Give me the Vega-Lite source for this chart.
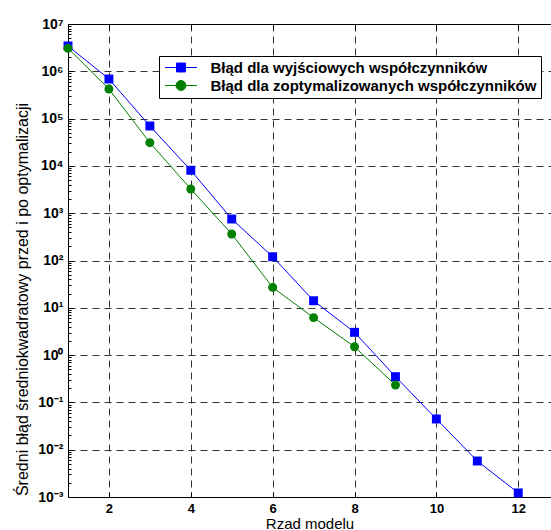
{
  "$schema": "https://vega.github.io/schema/vega-lite/v6.json",
  "width": 483,
  "height": 473,
  "autosize": {"type": "none"},
  "padding": {"left": 68, "top": 24, "right": 0, "bottom": 33},
  "background": "white",
  "config": {"view": {"stroke": null}, "font": "Liberation Sans",
    "legend": {"orient": "none", "legendX": 91, "legendY": 32, "strokeColor": "black", "fillColor": "white", "padding": 4,
      "labelFont": "Liberation Sans", "labelFontSize": 15, "labelFontWeight": "bold", "labelColor": "black", "labelLimit": 500,
      "symbolSize": 196, "symbolOffset": 10.5, "labelOffset": 22, "rowPadding": 2, "symbolStrokeWidth": 1, "symbolOpacity": 1}},
  "data": {
    "values": [
      {"order": 1, "mse": 3430000, "series": "Błąd dla wyjściowych współczynników"},
      {"order": 2, "mse": 688000, "series": "Błąd dla wyjściowych współczynników"},
      {"order": 3, "mse": 69800, "series": "Błąd dla wyjściowych współczynników"},
      {"order": 4, "mse": 8070, "series": "Błąd dla wyjściowych współczynników"},
      {"order": 5, "mse": 754, "series": "Błąd dla wyjściowych współczynników"},
      {"order": 6, "mse": 120, "series": "Błąd dla wyjściowych współczynników"},
      {"order": 7, "mse": 14.1, "series": "Błąd dla wyjściowych współczynników"},
      {"order": 8, "mse": 3.03, "series": "Błąd dla wyjściowych współczynników"},
      {"order": 9, "mse": 0.35, "series": "Błąd dla wyjściowych współczynników"},
      {"order": 10, "mse": 0.0446, "series": "Błąd dla wyjściowych współczynników"},
      {"order": 11, "mse": 0.00577, "series": "Błąd dla wyjściowych współczynników"},
      {"order": 12, "mse": 0.00122, "series": "Błąd dla wyjściowych współczynników"},
      {"order": 1, "mse": 3060000, "series": "Błąd dla zoptymalizowanych współczynników"},
      {"order": 2, "mse": 423000, "series": "Błąd dla zoptymalizowanych współczynników"},
      {"order": 3, "mse": 31000, "series": "Błąd dla zoptymalizowanych współczynników"},
      {"order": 4, "mse": 3250, "series": "Błąd dla zoptymalizowanych współczynników"},
      {"order": 5, "mse": 363, "series": "Błąd dla zoptymalizowanych współczynników"},
      {"order": 6, "mse": 27, "series": "Błąd dla zoptymalizowanych współczynników"},
      {"order": 7, "mse": 6.2, "series": "Błąd dla zoptymalizowanych współczynników"},
      {"order": 8, "mse": 1.5, "series": "Błąd dla zoptymalizowanych współczynników"},
      {"order": 9, "mse": 0.233, "series": "Błąd dla zoptymalizowanych współczynników"}
    ]
  },
  "layer": [
    {
      "mark": {"type": "line", "strokeWidth": 1},
      "encoding": {
        "x": {
          "field": "order", "type": "quantitative",
          "scale": {"domain": [1, 12.8], "nice": false, "zero": false},
          "axis": {
            "orient": "bottom", "values": [2, 4, 6, 8, 10, 12],
            "title": "Rzad modelu", "titleFontSize": 15, "titleFontWeight": "normal", "titleColor": "black", "titlePadding": 1,
            "labelFontSize": 13, "labelFontWeight": "bold", "labelColor": "black", "labelPadding": 10,
            "tickSize": -5, "tickColor": "black", "domainColor": "black", "domainWidth": 1,
            "grid": true, "gridDash": [7, 5], "gridColor": "#333333", "gridOpacity": 1
          }
        },
        "y": {
          "field": "mse", "type": "quantitative",
          "scale": {"type": "log", "domain": [0.001, 10000000], "nice": false},
          "axis": {
            "values": [0.001, 0.002, 0.003, 0.004, 0.005, 0.006, 0.007, 0.008, 0.009,
              0.01, 0.02, 0.03, 0.04, 0.05, 0.06, 0.07, 0.08, 0.09,
              0.1, 0.2, 0.3, 0.4, 0.5, 0.6, 0.7, 0.8, 0.9,
              1, 2, 3, 4, 5, 6, 7, 8, 9,
              10, 20, 30, 40, 50, 60, 70, 80, 90,
              100, 200, 300, 400, 500, 600, 700, 800, 900,
              1000, 2000, 3000, 4000, 5000, 6000, 7000, 8000, 9000,
              10000, 20000, 30000, 40000, 50000, 60000, 70000, 80000, 90000,
              100000, 200000, 300000, 400000, 500000, 600000, 700000, 800000, 900000,
              1000000, 2000000, 3000000, 4000000, 5000000, 6000000, 7000000, 8000000, 9000000,
              10000000],
            "labelExpr": "abs(log(datum.value)/LN10 - round(log(datum.value)/LN10)) < 0.001 ? '10' + (round(log(datum.value)/LN10) < 0 ? '⁻' : '') + substring('⁰¹²³⁴⁵⁶⁷⁸⁹', abs(round(log(datum.value)/LN10)), abs(round(log(datum.value)/LN10)) + 1) : ''",
            "labelOverlap": false, "labelFontSize": 14, "labelFontWeight": "bold", "labelColor": "black", "labelPadding": 10,
            "tickSize": {"condition": {"test": "abs(log(datum.value)/LN10 - round(log(datum.value)/LN10)) < 0.001", "value": -5}, "value": -3},
            "tickColor": "black", "domainColor": "black", "domainWidth": 1,
            "grid": true, "gridDash": [7, 5], "gridColor": "#333333",
            "gridOpacity": {"condition": {"test": "abs(log(datum.value)/LN10 - round(log(datum.value)/LN10)) < 0.001", "value": 1}, "value": 0},
            "title": "Średni błąd  średniokwadratowy przed i po optymalizacji",
            "titleFontSize": 16, "titleFontWeight": "normal", "titleColor": "black", "titlePadding": 7, "titleY": 275
          }
        },
        "stroke": {
          "field": "series", "type": "nominal",
          "scale": {"domain": ["Błąd dla wyjściowych współczynników", "Błąd dla zoptymalizowanych współczynników"], "range": ["#0000ff", "#008000"]},
          "legend": {"title": null}
        }
      }
    },
    {
      "transform": [{"filter": "datum.series === 'Błąd dla wyjściowych współczynników'"}],
      "mark": {"type": "point", "shape": "square", "filled": true, "opacity": 1, "color": "#0000ff", "size": 80},
      "encoding": {
        "x": {
          "field": "order", "type": "quantitative",
          "scale": {"domain": [1, 12.8], "nice": false, "zero": false},
          "axis": {
            "orient": "top", "values": [2, 4, 6, 8, 10, 12], "labels": false, "title": null,
            "tickSize": -5, "tickColor": "black", "domainColor": "black", "domainWidth": 1, "grid": false
          }
        },
        "y": {"field": "mse", "type": "quantitative", "scale": {"type": "log", "domain": [0.001, 10000000], "nice": false}, "axis": null}
      }
    },
    {
      "transform": [{"filter": "datum.series === 'Błąd dla zoptymalizowanych współczynników'"}],
      "mark": {"type": "point", "shape": "circle", "filled": true, "opacity": 1, "color": "#008000", "size": 80},
      "encoding": {
        "x": {"field": "order", "type": "quantitative", "scale": {"domain": [1, 12.8], "nice": false, "zero": false}, "axis": null},
        "y": {"field": "mse", "type": "quantitative", "scale": {"type": "log", "domain": [0.001, 10000000], "nice": false}, "axis": null}
      }
    },
    {
      "transform": [{"filter": "datum.order > 100"}],
      "mark": {"type": "point", "filled": true, "opacity": 1, "strokeWidth": 1},
      "encoding": {
        "x": {"field": "order", "type": "quantitative", "scale": {"domain": [1, 12.8], "nice": false, "zero": false}, "axis": null},
        "y": {"field": "mse", "type": "quantitative", "scale": {"type": "log", "domain": [0.001, 10000000], "nice": false}, "axis": null},
        "fill": {
          "field": "series", "type": "nominal",
          "scale": {"domain": ["Błąd dla wyjściowych współczynników", "Błąd dla zoptymalizowanych współczynników"], "range": ["#0000ff", "#008000"]},
          "legend": {"title": null}
        },
        "stroke": {"field": "series", "type": "nominal", "legend": {"title": null}},
        "shape": {
          "field": "series", "type": "nominal",
          "scale": {"domain": ["Błąd dla wyjściowych współczynników", "Błąd dla zoptymalizowanych współczynników"], "range": ["M-2.29,0H2.29M-0.64,-0.64H0.64V0.64H-0.64Z", "M-2.29,0H2.29M0.71,0A0.71,0.71 0 1,1 -0.71,0A0.71,0.71 0 1,1 0.71,0Z"]},
          "legend": {"title": null}
        }
      }
    }
  ],
  "resolve": {"axis": {"x": "independent", "y": "independent"}}
}
